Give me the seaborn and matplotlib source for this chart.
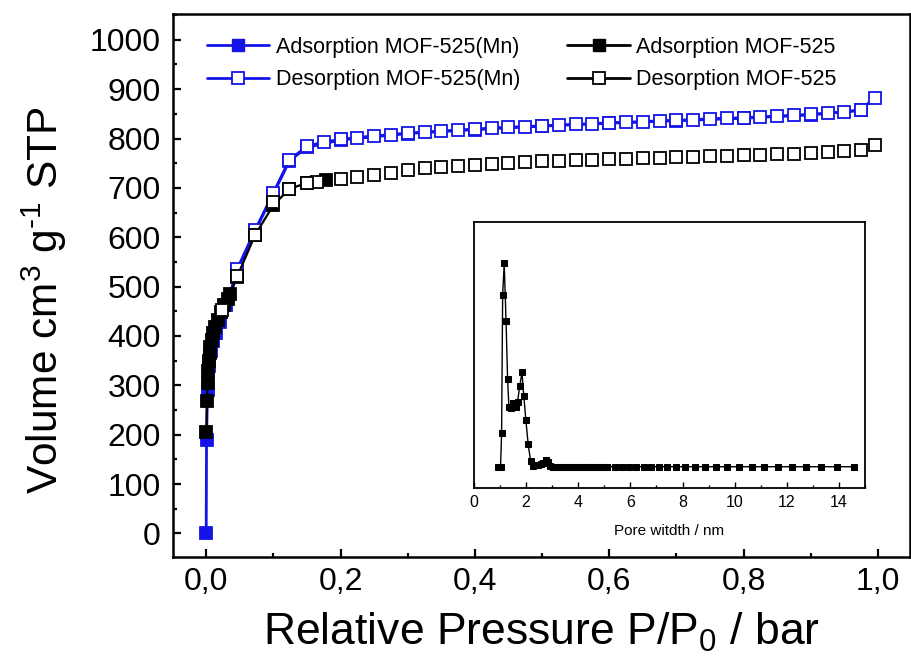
import numpy as np
import pandas as pd
import matplotlib
matplotlib.use("Agg")
import matplotlib.pyplot as plt
import seaborn as sns
from matplotlib.ticker import MultipleLocator, FuncFormatter
from matplotlib.lines import Line2D

# ---------------- data ----------------
# MOF-525(Mn) adsorption
mn_ads_p = [0.0, 0.0005, 0.002, 0.004, 0.007, 0.010, 0.015, 0.020, 0.030, 0.046, 0.073, 0.100, 0.124,
            0.150, 0.200, 0.300, 0.400, 0.500, 0.600, 0.700, 0.800, 0.900, 0.975]
mn_ads_v = [0, 190, 290, 340, 370, 390, 405, 428, 462, 533, 613, 688, 755,
            782, 797, 810, 818, 825, 831, 836, 841, 848, 857]
# MOF-525(Mn) desorption
mn_des_p = [0.995, 0.975, 0.950, 0.925, 0.900, 0.875, 0.850, 0.825, 0.800, 0.775, 0.750, 0.725,
            0.700, 0.675, 0.650, 0.625, 0.600, 0.575, 0.550, 0.525, 0.500, 0.475, 0.450, 0.425,
            0.400, 0.375, 0.350, 0.325, 0.300, 0.275, 0.250, 0.225, 0.200, 0.175, 0.150, 0.124,
            0.100, 0.073, 0.046]
mn_des_v = [883, 858, 854, 851, 849, 847, 845, 844, 842, 841, 840, 838,
            837, 836, 834, 833, 832, 830, 829, 827, 826, 824, 823, 821,
            819, 817, 815, 813, 811, 808, 805, 802, 798, 793, 784, 757,
            690, 615, 535]
# MOF-525 adsorption
b_ads_p = [0.0003, 0.001, 0.002, 0.003, 0.004, 0.005, 0.006, 0.008, 0.010, 0.013, 0.017, 0.022,
           0.027, 0.032, 0.036, 0.046, 0.073, 0.100, 0.124, 0.150, 0.178]
b_ads_v = [205, 268, 305, 330, 350, 365, 378, 392, 405, 418, 432, 448,
           462, 475, 485, 520, 605, 665, 698, 710, 716]
# MOF-525 desorption
b_des_p = [0.995, 0.975, 0.950, 0.925, 0.900, 0.875, 0.850, 0.825, 0.800, 0.775, 0.750, 0.725,
           0.700, 0.675, 0.650, 0.625, 0.600, 0.575, 0.550, 0.525, 0.500, 0.475, 0.450, 0.425,
           0.400, 0.375, 0.350, 0.325, 0.300, 0.275, 0.250, 0.225, 0.200, 0.165, 0.150, 0.124,
           0.100, 0.073, 0.046, 0.023]
b_des_v = [787, 777, 775, 772, 770, 769, 768, 767, 766, 765, 764, 763,
           762, 761, 760, 759, 758, 757, 756, 755, 754, 753, 751, 749,
           747, 745, 743, 740, 736, 731, 727, 722, 718, 712, 709, 698,
           672, 605, 522, 452]

# pore size distribution (inset)
pore_w = [0.93, 1.02, 1.06, 1.10, 1.16, 1.23, 1.29, 1.34, 1.42, 1.51, 1.60, 1.67, 1.76, 1.84,
          1.91, 1.99, 2.08, 2.17, 2.27, 2.37, 2.46, 2.56, 2.65, 2.76, 2.84, 2.93,
          3.04, 3.15, 3.27, 3.40, 3.53, 3.66, 3.78, 3.91, 4.04, 4.17, 4.30, 4.43, 4.56,
          4.69, 4.82, 4.95, 5.11, 5.40, 5.68, 5.94, 6.22, 6.51, 6.79, 7.09, 7.41, 7.76,
          8.11, 8.48, 8.88, 9.29, 9.72, 10.18, 10.65, 11.14, 11.65, 12.18, 12.73, 13.33,
          13.94, 14.58]
pore_v = [0.0, 0.0, 0.167, 0.844, 1.0, 0.718, 0.431, 0.295, 0.287, 0.315, 0.295, 0.320, 0.398,
          0.464, 0.349, 0.230, 0.110, 0.030, 0.005, 0.008, 0.008, 0.011, 0.016, 0.033, 0.021,
          0.005, 0.0, 0.0, 0.0, 0.0, 0.0, 0.0, 0.0, 0.0, 0.0, 0.0, 0.0, 0.0, 0.0,
          0.0, 0.0, 0.0, 0.0, 0.0, 0.0, 0.0, 0.0, 0.0, 0.0, 0.0, 0.0, 0.0,
          0.0, 0.0, 0.0, 0.0, 0.0, 0.0, 0.0, 0.0, 0.0, 0.0, 0.0, 0.0,
          0.0, 0.0]

x_ticks = [0.0, 0.2, 0.4, 0.6, 0.8, 1.0]
y_ticks = [0, 100, 200, 300, 400, 500, 600, 700, 800, 900, 1000]
inset_ticks = [0, 2, 4, 6, 8, 10, 12, 14]

labels = ["Adsorption MOF-525(Mn)", "Desorption MOF-525(Mn)",
          "Adsorption MOF-525", "Desorption MOF-525"]

# ---------------- style ----------------
sns.set_style("ticks")
plt.rcParams["font.family"] = ["Liberation Sans", "DejaVu Sans"]
plt.rcParams["mathtext.fontset"] = "custom"
plt.rcParams["mathtext.rm"] = "Liberation Sans"
plt.rcParams["mathtext.it"] = "Liberation Sans"
plt.rcParams["mathtext.bf"] = "Liberation Sans"
for k in ["text.color", "axes.labelcolor", "xtick.color", "ytick.color", "axes.edgecolor"]:
    plt.rcParams[k] = "black"

BLUE = "#1414e8"
MS = 8.4

fig = plt.figure(figsize=(9.12, 6.72), dpi=100)
ax = fig.add_axes([0.190, 0.171, 0.808, 0.808])

def draw(x, y, color, face, z, lw):
    df = pd.DataFrame({"x": x, "y": y})
    sns.lineplot(data=df, x="x", y="y", ax=ax, sort=False, estimator=None,
                 color=color, marker="s", markersize=MS, markerfacecolor=face,
                 markeredgecolor=color, markeredgewidth=1.3, linewidth=lw,
                 legend=False, zorder=z)

draw(mn_ads_p, mn_ads_v, BLUE, BLUE, 3, 2.0)
draw(mn_des_p, mn_des_v, BLUE, "white", 4, 2.0)
draw(b_ads_p, b_ads_v, "black", "black", 5, 1.6)
draw(b_des_p, b_des_v, "black", "white", 6, 0.0)

ax.set_xlim(-0.049, 1.048)
ax.set_ylim(-48, 1052)
ax.set_xticks(x_ticks)
ax.set_yticks(y_ticks)
ax.xaxis.set_minor_locator(MultipleLocator(0.1))
ax.yaxis.set_minor_locator(MultipleLocator(50))
ax.xaxis.set_major_formatter(FuncFormatter(lambda v, p: f"{v:.1f}".replace(".", ",")))
ax.tick_params(which="both", direction="in", width=1.6, labelsize=23, top=False, right=False)
ax.tick_params(which="major", length=6)
ax.tick_params(which="minor", length=3)
ax.tick_params(axis="y", pad=9)
ax.tick_params(axis="x", pad=7)
for s in ax.spines.values():
    s.set_linewidth(1.8)
    s.set_visible(True)

ax.set_xlabel(r"Relative Pressure P/P$_0$ / bar", fontsize=32, labelpad=10)
ax.set_ylabel(r"Volume cm$^{3}$ g$^{\text{-}1}$ STP", fontsize=30.5, labelpad=15)
ax.yaxis.label.set_y(0.473)

handles = [
    Line2D([], [], color=BLUE, lw=2.0, marker="s", ms=MS, mfc=BLUE, mec=BLUE),
    Line2D([], [], color=BLUE, lw=2.0, marker="s", ms=MS, mfc="white", mec=BLUE, mew=1.3),
    Line2D([], [], color="black", lw=2.0, marker="s", ms=MS, mfc="black", mec="black"),
    Line2D([], [], color="black", lw=2.0, marker="s", ms=MS, mfc="white", mec="black", mew=1.3),
]
leg = ax.legend(handles, labels, ncol=2, loc="upper left", bbox_to_anchor=(0.025, 0.986),
                frameon=False, fontsize=15.5, handlelength=2.9, handletextpad=0.3,
                columnspacing=2.2, labelspacing=0.53, borderaxespad=0.3, numpoints=1)

# ---------------- inset ----------------
axi = fig.add_axes([0.5197, 0.2743, 0.4288, 0.3958])
dfi = pd.DataFrame({"w": pore_w, "v": pore_v})
sns.lineplot(data=dfi, x="w", y="v", ax=axi, sort=False, estimator=None, color="black",
             marker="s", markersize=4.4, markerfacecolor="black", markeredgecolor="black",
             linewidth=1.0)
axi.set_xlim(0, 15)
axi.set_ylim(-0.103, 1.205)
axi.set_xticks(inset_ticks)
axi.xaxis.set_minor_locator(MultipleLocator(1))
axi.set_yticks([])
axi.tick_params(which="both", direction="in", labelsize=11.5, width=1.0, top=False, right=False)
axi.tick_params(which="major", length=4, pad=5)
axi.tick_params(which="minor", length=2)
axi.set_xlabel("Pore witdth / nm", fontsize=11, labelpad=10)
axi.set_ylabel("")
for s in axi.spines.values():
    s.set_linewidth(1.3)
    s.set_visible(True)

fig.savefig("out.png", dpi=100)
